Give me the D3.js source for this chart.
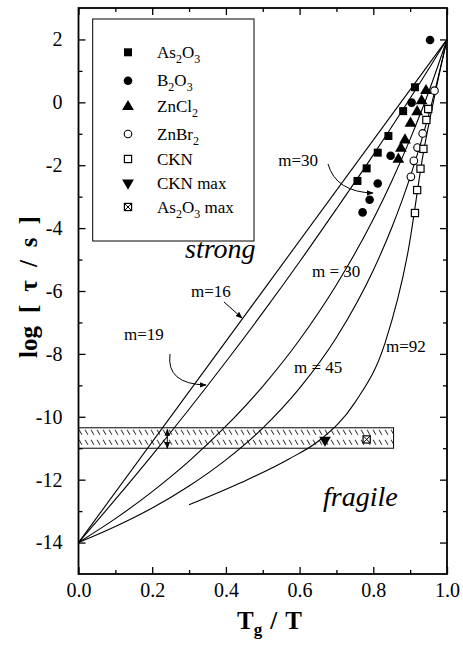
<!DOCTYPE html>
<html><head><meta charset="utf-8">
<script src="https://cdn.jsdelivr.net/npm/d3@7"></script>
<style>body{margin:0;background:#fff}svg{display:block}</style>
</head><body><svg id="c" width="463" height="647" font-family="Liberation Serif"></svg>
<script>
// ---------- data ----------
const xTicks = [0, 0.2, 0.4, 0.6, 0.8, 1.0];
const xTickLabels = ["0.0", "0.2", "0.4", "0.6", "0.8", "1.0"];
const xMinor = [0.1, 0.3, 0.5, 0.7, 0.9];
const yTicks = [2, 0, -2, -4, -6, -8, -10, -12, -14];
const yTickLabels = ["2", "0", "-2", "-4", "-6", "-8", "-10", "-12", "-14"];
const yMinor = [1, -1, -3, -5, -7, -9, -11, -13];

const curveM16 = [[0, -14], [1, 2]];
const curveM19 = [[0,-14],[0.1,-12.63],[0.2,-11.22],[0.3,-9.76],[0.4,-8.25],[0.5,-6.69],[0.6,-5.07],[0.7,-3.39],[0.8,-1.67],[0.9,0.13],[1,2]];
const curveM30 = [[0,-14],[0.1,-13.24],[0.2,-12.38],[0.3,-11.41],[0.4,-10.30],[0.5,-9.03],[0.6,-7.55],[0.7,-5.80],[0.8,-3.72],[0.85,-2.51],[0.9,-1.17],[0.95,0.32],[1,2]];
const curveM45 = [[0,-14],[0.1,-13.49],[0.2,-12.90],[0.3,-12.20],[0.4,-11.37],[0.5,-10.36],[0.6,-9.09],[0.7,-7.48],[0.8,-5.34],[0.85,-3.99],[0.9,-2.38],[0.95,-0.42],[1,2]];
const curveM92 = [[0.30,-12.8],[0.44,-12.1],[0.57,-11.35],[0.655,-10.74],[0.75,-9.55],[0.832,-7.65],[0.895,-4.7],[0.936,-1.6],[0.97,0.4],[1,2]];

const as2o3 = [[0.913,0.48],[0.881,-0.28],[0.841,-1.07],[0.812,-1.60],[0.782,-2.10],[0.757,-2.50]];
const b2o3 = [[0.954,1.98],[0.904,-0.01],[0.847,-1.70],[0.812,-2.58],[0.790,-3.10],[0.771,-3.50]];
const zncl2 = [[0.943,0.37],[0.931,0.05],[0.919,-0.30],[0.901,-0.67],[0.886,-1.20],[0.875,-1.46],[0.868,-1.81]];
const znbr2 = [[0.966,0.37],[0.949,-0.22],[0.934,-0.99],[0.920,-1.44],[0.910,-1.86],[0.902,-2.37]];
const ckn = [[0.949,-0.21],[0.944,-0.56],[0.936,-1.48],[0.928,-2.11],[0.919,-2.79],[0.913,-3.52]];
const cknMax = [[0.669,-10.74]];
const as2o3Max = [[0.782,-10.72]];
const bandRange = [0, 0.855, -10.35, -11.0];
const errArrow = [0.241, -10.4, -11.0];

const legendLabels = [["As","2","O","3"],["B","2","O","3"],["ZnCl","2"],["ZnBr","2"],["CKN"],["CKN max"],["As","2","O","3"," max"]];
const legendKinds = ["sqF","cirF","triF","cirO","sqO","triD","sqX"];
const yTitleParts = ["log", "[", "τ", "/", "s", "]"];

const FONT = "Liberation Serif";

// ---------- scales ----------
const svg = d3.select("#c");
const x = d3.scaleLinear().domain([0, 1]).range([78.5, 447]);
const y = d3.scaleLinear().domain([-15, 3]).range([574, 8]);

// hatch pattern
const defs = svg.append("defs");
const pat = defs.append("pattern").attr("id","hatch").attr("patternUnits","userSpaceOnUse")
  .attr("width",6).attr("height",10).attr("x",0).attr("y",y(bandRange[2]));
pat.append("path").attr("d","M1,2 L4,7").attr("stroke","#000").attr("stroke-width",0.9);
const mk = defs.append("marker").attr("id","arr").attr("viewBox","0 0 10 10").attr("refX",9).attr("refY",5)
  .attr("markerWidth",7).attr("markerHeight",7).attr("orient","auto-start-reverse").attr("markerUnits","userSpaceOnUse");
mk.append("path").attr("d","M0,1 L10,5 L0,9 Z").attr("fill","#000");

// band
svg.append("rect").attr("x", x(bandRange[0])).attr("y", y(bandRange[2]))
  .attr("width", x(bandRange[1]) - x(bandRange[0])).attr("height", y(bandRange[3]) - y(bandRange[2]))
  .attr("fill","url(#hatch)").attr("stroke","#000").attr("stroke-width",1);

// curves
const line = d3.line().x(d => x(d[0])).y(d => y(d[1])).curve(d3.curveMonotoneX);
[curveM16, curveM19, curveM30, curveM45, curveM92].forEach(c => {
  svg.append("path").attr("d", line(c)).attr("fill","none").attr("stroke","#000").attr("stroke-width",1.1);
});

// axes
function styleAxis(g){ g.attr("font-family", FONT).attr("font-size", 20); }
svg.append("g").attr("transform",`translate(0,${y(-15)})`)
  .call(d3.axisBottom(x).tickValues(xTicks).tickSizeInner(-7).tickSizeOuter(0).tickPadding(9).tickFormat((d,i)=>xTickLabels[i])).call(styleAxis);
svg.append("g").attr("transform",`translate(0,${y(-15)})`)
  .call(d3.axisBottom(x).tickValues(xMinor).tickSizeInner(-4).tickSizeOuter(0).tickFormat(""));
svg.append("g").attr("transform",`translate(0,${y(3)})`)
  .call(d3.axisTop(x).tickValues(xTicks).tickSizeInner(-7).tickSizeOuter(0).tickFormat(""));
svg.append("g").attr("transform",`translate(0,${y(3)})`)
  .call(d3.axisTop(x).tickValues(xMinor).tickSizeInner(-4).tickSizeOuter(0).tickFormat(""));
svg.append("g").attr("transform",`translate(${x(0)},0)`)
  .call(d3.axisLeft(y).tickValues(yTicks).tickSizeInner(-7).tickSizeOuter(0).tickPadding(16).tickFormat((d,i)=>yTickLabels[i])).call(styleAxis);
svg.append("g").attr("transform",`translate(${x(0)},0)`)
  .call(d3.axisLeft(y).tickValues(yMinor).tickSizeInner(-4).tickSizeOuter(0).tickFormat(""));
svg.append("g").attr("transform",`translate(${x(1)},0)`)
  .call(d3.axisRight(y).tickValues(yTicks).tickSizeInner(-7).tickSizeOuter(0).tickFormat(""));
svg.append("g").attr("transform",`translate(${x(1)},0)`)
  .call(d3.axisRight(y).tickValues(yMinor).tickSizeInner(-4).tickSizeOuter(0).tickFormat(""));
svg.selectAll(".domain").remove();
svg.selectAll(".tick line").attr("stroke","#000").attr("stroke-width",1.3);
svg.selectAll(".tick text").attr("fill","#000").attr("font-family", FONT);
svg.append("rect").attr("x",x(0)).attr("y",y(3)).attr("width",x(1)-x(0)).attr("height",y(-15)-y(3))
  .attr("fill","none").attr("stroke","#000").attr("stroke-width",1.8);

// markers
function sym(g, kind, cx, cy) {
  const s = g.append("g").attr("transform",`translate(${cx},${cy})`);
  if (kind === "sqF") s.append("rect").attr("x",-4).attr("y",-4).attr("width",8).attr("height",8).attr("fill","#000");
  if (kind === "sqO") s.append("rect").attr("x",-3.6).attr("y",-3.6).attr("width",7.2).attr("height",7.2).attr("fill","#fff").attr("stroke","#000").attr("stroke-width",1.2);
  if (kind === "cirF") s.append("circle").attr("r",4.3).attr("fill","#000");
  if (kind === "cirO") s.append("circle").attr("r",3.8).attr("fill","#fff").attr("stroke","#000").attr("stroke-width",1.1);
  if (kind === "triF") s.append("path").attr("d",d3.symbol(d3.symbolTriangle,60)()).attr("fill","#000");
  if (kind === "triD") s.append("path").attr("d",d3.symbol(d3.symbolTriangle,60)()).attr("transform","rotate(180)").attr("fill","#000");
  if (kind === "sqX") {
    s.append("rect").attr("x",-3.6).attr("y",-3.6).attr("width",7.2).attr("height",7.2).attr("fill","#fff").attr("stroke","#000").attr("stroke-width",1.2);
    s.append("path").attr("d","M-3.6,-3.6L3.6,3.6M3.6,-3.6L-3.6,3.6").attr("stroke","#000").attr("stroke-width",1);
  }
}
const pts = svg.append("g");
[[as2o3,"sqF"],[b2o3,"cirF"],[zncl2,"triF"],[znbr2,"cirO"],[ckn,"sqO"],[cknMax,"triD"],[as2o3Max,"sqX"]]
  .forEach(([arr,k]) => arr.forEach(d => sym(pts, k, x(d[0]), y(d[1]))));

// double arrow in band
svg.append("line").attr("x1",x(errArrow[0])).attr("x2",x(errArrow[0])).attr("y1",y(errArrow[2])).attr("y2",y(errArrow[1]))
  .attr("stroke","#000").attr("stroke-width",1).attr("marker-end","url(#arr)").attr("marker-start","url(#arr)");

// legend
const lg = svg.append("g");
lg.append("rect").attr("x",92.7).attr("y",19).attr("width",161.3).attr("height",222).attr("fill","#fff").attr("stroke","#000").attr("stroke-width",1);
const rowY = [52.3, 80.7, 106.7, 134, 159, 183, 207];
legendLabels.forEach((parts, i) => {
  sym(lg, legendKinds[i], 128, rowY[i]);
  const t = lg.append("text").attr("x",157).attr("y",rowY[i]+5.5).attr("font-family",FONT).attr("font-size",17);
  let sub = false;
  parts.forEach(p => {
    const isSub = /^[0-9]$/.test(p);
    const ts = t.append("tspan").text(p);
    if (isSub && !sub) { ts.attr("dy",5).attr("font-size",12); sub = true; }
    else if (!isSub && sub) { ts.attr("dy",-5); sub = false; }
  });
});

// annotations
function lab(txt, xx, yy, size, anchor, style) {
  return svg.append("text").attr("x",xx).attr("y",yy).attr("text-anchor",anchor||"start")
    .attr("font-family",FONT).attr("font-size",size).attr("font-style",style||"normal").text(txt);
}
lab("m=30", 318, 166, 17, "end");
lab("m=16", 191, 297, 17);
lab("m=19", 124, 340, 17);
lab("m = 30", 312, 277, 17);
lab("m = 45", 294, 373, 17);
lab("m=92", 386, 352, 17);
lab("strong", 185, 258, 28, "start", "italic");
lab("fragile", 323, 506, 28, "start", "italic");

svg.append("path").attr("d","M224,302 L242,318").attr("stroke","#000").attr("fill","none").attr("stroke-width",1).attr("marker-end","url(#arr)");
svg.append("path").attr("d","M170,354 Q166,384 206,385").attr("stroke","#000").attr("fill","none").attr("stroke-width",1).attr("marker-end","url(#arr)");
svg.append("path").attr("d","M328,164 Q336,192 373,193").attr("stroke","#000").attr("fill","none").attr("stroke-width",1).attr("marker-end","url(#arr)");

// axis titles
const xt = svg.append("text").attr("x",237).attr("y",629)
  .attr("font-family",FONT).attr("font-size",25).attr("font-weight","bold");
xt.append("tspan").text("T");
xt.append("tspan").attr("dy",6).attr("font-size",17).text("g");
xt.append("tspan").attr("dy",-6).attr("dx",8).text("/");
xt.append("tspan").attr("dx",8).text("T");
const yt = svg.append("text").attr("transform","translate(37,287) rotate(-90)").attr("text-anchor","middle")
  .attr("font-family",FONT).attr("font-size",25).attr("font-weight","bold");
yTitleParts.forEach((p, i) => yt.append("tspan").attr("dx", i === 0 ? 0 : 13).text(p));
</script></body></html>
